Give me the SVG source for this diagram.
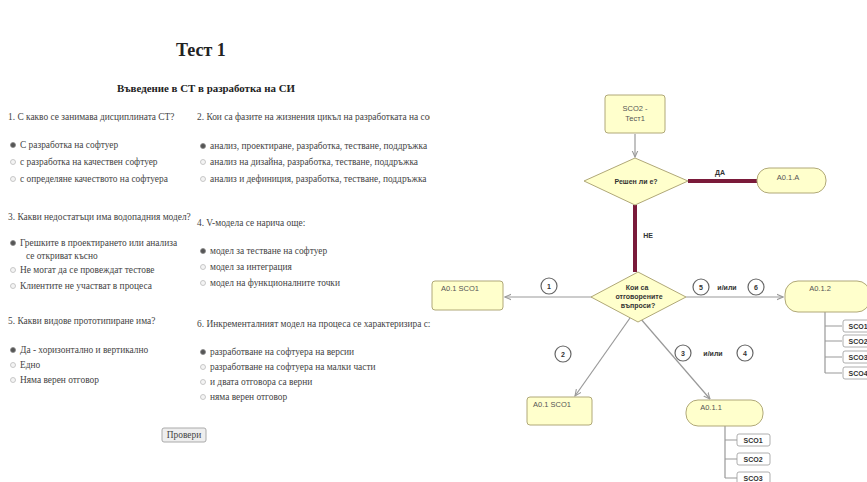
<svg xmlns="http://www.w3.org/2000/svg" width="867" height="482" viewBox="0 0 867 482">
<style>
.t{font-family:"Liberation Serif",serif;fill:#444;font-size:9.4px}
.h{font-family:"Liberation Serif",serif;fill:#222;font-weight:bold}
.n{fill:#ffffcc;stroke:#b0a878;stroke-width:1}
.nl{font-family:"Liberation Sans",sans-serif;font-size:7.5px;fill:#555;text-anchor:middle}
.b{font-family:"Liberation Sans",sans-serif;font-size:7px;font-weight:bold;fill:#333;text-anchor:middle}
.g{stroke:#999;stroke-width:1.2;fill:none}
.r{stroke:#7a1a3a;stroke-width:4;fill:none}
.c{fill:#fff;stroke:#666;stroke-width:1.2}
.rb{fill:#f4f4f4;stroke:#bbb;stroke-width:0.8}
.rs{fill:#555;stroke:#888;stroke-width:0.8}
.s{fill:#fff;stroke:#999;stroke-width:0.8}
</style>
<defs>
<marker id="a" viewBox="0 0 10 10" refX="9" refY="5" markerWidth="6" markerHeight="6" orient="auto"><path d="M0,1 L9,5 L0,9" fill="none" stroke="#999" stroke-width="1.5"/></marker>
<clipPath id="cl"><rect x="0" y="0" width="430" height="482"/></clipPath>
</defs>
<rect width="867" height="482" fill="#fff"/>
<g id="form">
<text class="h" x="176" y="56" font-size="18">Тест 1</text>
<text class="h" x="117" y="92" font-size="10" textLength="178" lengthAdjust="spacingAndGlyphs">Въведение в СТ в разработка на СИ</text>
<text class="t" x="8" y="120">1. С какво се занимава дисциплината СТ?</text>
<circle class="rs" cx="13" cy="145" r="2.5"/><text class="t" x="20" y="148">С разработка на софтуер</text>
<circle class="rb" cx="13" cy="162" r="2.5"/><text class="t" x="20" y="165">с разработка на качествен софтуер</text>
<circle class="rb" cx="13" cy="179" r="2.5"/><text class="t" x="20" y="182">с определяне качеството на софтуера</text>
<g clip-path="url(#cl)">
<text class="t" x="197" y="120">2. Кои са фазите на жизнения цикъл на разработката на софтуер?</text>
</g>
<circle class="rs" cx="203" cy="146" r="2.5"/><text class="t" x="210" y="149">анализ, проектиране, разработка, тестване, поддръжка</text>
<circle class="rb" cx="203" cy="162" r="2.5"/><text class="t" x="210" y="165">анализ на дизайна, разработка, тестване, поддръжка</text>
<circle class="rb" cx="203" cy="179" r="2.5"/><text class="t" x="210" y="182">анализ и дефиниция, разработка, тестване, поддръжка</text>
<text class="t" x="8" y="220">3. Какви недостатъци има водопадния модел?</text>
<circle class="rs" cx="13" cy="243" r="2.5"/><text class="t" x="20" y="246">Грешките в проектирането или анализа</text>
<text class="t" x="26" y="259">се откриват късно</text>
<circle class="rb" cx="13" cy="270" r="2.5"/><text class="t" x="20" y="273">Не могат да се провеждат тестове</text>
<circle class="rb" cx="13" cy="286" r="2.5"/><text class="t" x="20" y="289">Клиентите не участват в процеса</text>
<text class="t" x="197" y="226">4. V-модела се нарича още:</text>
<circle class="rs" cx="203" cy="251" r="2.5"/><text class="t" x="210" y="254">модел за тестване на софтуер</text>
<circle class="rb" cx="203" cy="267" r="2.5"/><text class="t" x="210" y="270">модел за интеграция</text>
<circle class="rb" cx="203" cy="283" r="2.5"/><text class="t" x="210" y="286">модел на функционалните точки</text>
<text class="t" x="8" y="324">5. Какви видове прототипиране има?</text>
<circle class="rs" cx="13" cy="350" r="2.5"/><text class="t" x="20" y="353">Да - хоризонтално и вертикално</text>
<circle class="rb" cx="13" cy="365" r="2.5"/><text class="t" x="20" y="368">Едно</text>
<circle class="rb" cx="13" cy="380" r="2.5"/><text class="t" x="20" y="383">Няма верен отговор</text>
<text class="t" x="197" y="327">6. Инкременталният модел на процеса се характеризира с:</text>
<circle class="rs" cx="203" cy="352" r="2.5"/><text class="t" x="210" y="355">разработване на софтуера на версии</text>
<circle class="rb" cx="203" cy="367" r="2.5"/><text class="t" x="210" y="370">разработване на софтуера на малки части</text>
<circle class="rb" cx="203" cy="382" r="2.5"/><text class="t" x="210" y="385">и двата отговора са верни</text>
<circle class="rb" cx="203" cy="397" r="2.5"/><text class="t" x="210" y="400">няма верен отговор</text>
<rect x="162" y="428" width="44" height="14" rx="2" fill="#eee" stroke="#aaa"/>
<text class="t" x="184" y="438" text-anchor="middle" font-size="8">Провери</text>
</g>
<g id="connectors">
<line class="g" x1="635" y1="134" x2="635" y2="157" marker-end="url(#a)"/>
<line class="r" x1="688" y1="181" x2="757" y2="181"/>
<line class="r" x1="635" y1="205" x2="635" y2="272"/>
<line class="g" x1="592" y1="297" x2="505" y2="297" marker-end="url(#a)"/>
<line class="g" x1="686" y1="297" x2="783" y2="297" marker-end="url(#a)"/>
<line class="g" x1="630" y1="318" x2="575" y2="396" marker-end="url(#a)"/>
<line class="g" x1="640" y1="318" x2="710" y2="399" marker-end="url(#a)"/>
<path class="g" d="M825,312 V373 M825,326 H842 M825,341 H842 M825,357 H842 M825,373 H842"/>
<path class="g" d="M725,426 V478 M725,440 H737 M725,459 H737 M725,478 H737"/>
<text class="b" x="720" y="175">ДА</text>
<text class="b" x="648" y="238">НЕ</text>
<circle class="c" cx="549" cy="286" r="8"/><text class="b" x="549" y="289">1</text>
<circle class="c" cx="701" cy="287" r="8"/><text class="b" x="701" y="290">5</text>
<text class="b" x="727" y="290">и/или</text>
<circle class="c" cx="756" cy="287" r="8"/><text class="b" x="756" y="290">6</text>
<circle class="c" cx="563" cy="354" r="8"/><text class="b" x="563" y="357">2</text>
<circle class="c" cx="683" cy="353" r="8"/><text class="b" x="683" y="356">3</text>
<text class="b" x="713" y="356">и/или</text>
<circle class="c" cx="745" cy="353" r="8"/><text class="b" x="745" y="356">4</text>
</g>
<g id="sco2">
<rect class="n" x="605" y="95" width="60" height="38" rx="3"/>
<text class="nl" x="635" y="111">SCO2 -</text><text class="nl" x="635" y="121">Тест1</text>
</g>
<g id="d1">
<polygon class="n" points="635,158 688,181 635,205 584,181"/>
<text class="b" x="636" y="184">Решен ли е?</text>
</g>
<g id="a01a">
<rect class="n" x="757" y="168" width="69" height="25" rx="12"/>
<text class="nl" x="788" y="180">A0.1.A</text>
</g>
<g id="d2">
<polygon class="n" points="638,272 686,297 638,322 591,297"/>
<text class="b" x="637" y="290">Кои са</text>
<text class="b" x="639" y="299">отговорените</text>
<text class="b" x="638" y="308">въпроси?</text>
</g>
<g id="sco1a">
<rect class="n" x="432" y="281" width="71" height="29" rx="3"/>
<text class="nl" x="460" y="291">A0.1 SCO1</text>
</g>
<g id="a012">
<rect class="n" x="785" y="281" width="85" height="31" rx="13"/>
<text class="nl" x="820" y="291">A0.1.2</text>
</g>
<g id="sub2">
<rect class="s" x="843" y="320" width="30" height="12" rx="2"/><text class="b" x="858" y="329">SCO1</text>
<rect class="s" x="843" y="335" width="30" height="12" rx="2"/><text class="b" x="858" y="344">SCO2</text>
<rect class="s" x="843" y="351" width="30" height="12" rx="2"/><text class="b" x="858" y="360">SCO3</text>
<rect class="s" x="843" y="367" width="30" height="12" rx="2"/><text class="b" x="858" y="376">SCO4</text>
</g>
<g id="sco1b">
<rect class="n" x="527" y="397" width="65" height="28" rx="3"/>
<text class="nl" x="552" y="407">A0.1 SCO1</text>
</g>
<g id="a011">
<rect class="n" x="686" y="400" width="77" height="26" rx="12"/>
<text class="nl" x="711" y="410">A0.1.1</text>
</g>
<g id="sub1">
<rect class="s" x="737" y="434" width="33" height="12" rx="2"/><text class="b" x="753" y="443">SCO1</text>
<rect class="s" x="737" y="453" width="33" height="12" rx="2"/><text class="b" x="753" y="462">SCO2</text>
<rect class="s" x="737" y="472" width="33" height="12" rx="2"/><text class="b" x="753" y="481">SCO3</text>
</g>
</svg>
